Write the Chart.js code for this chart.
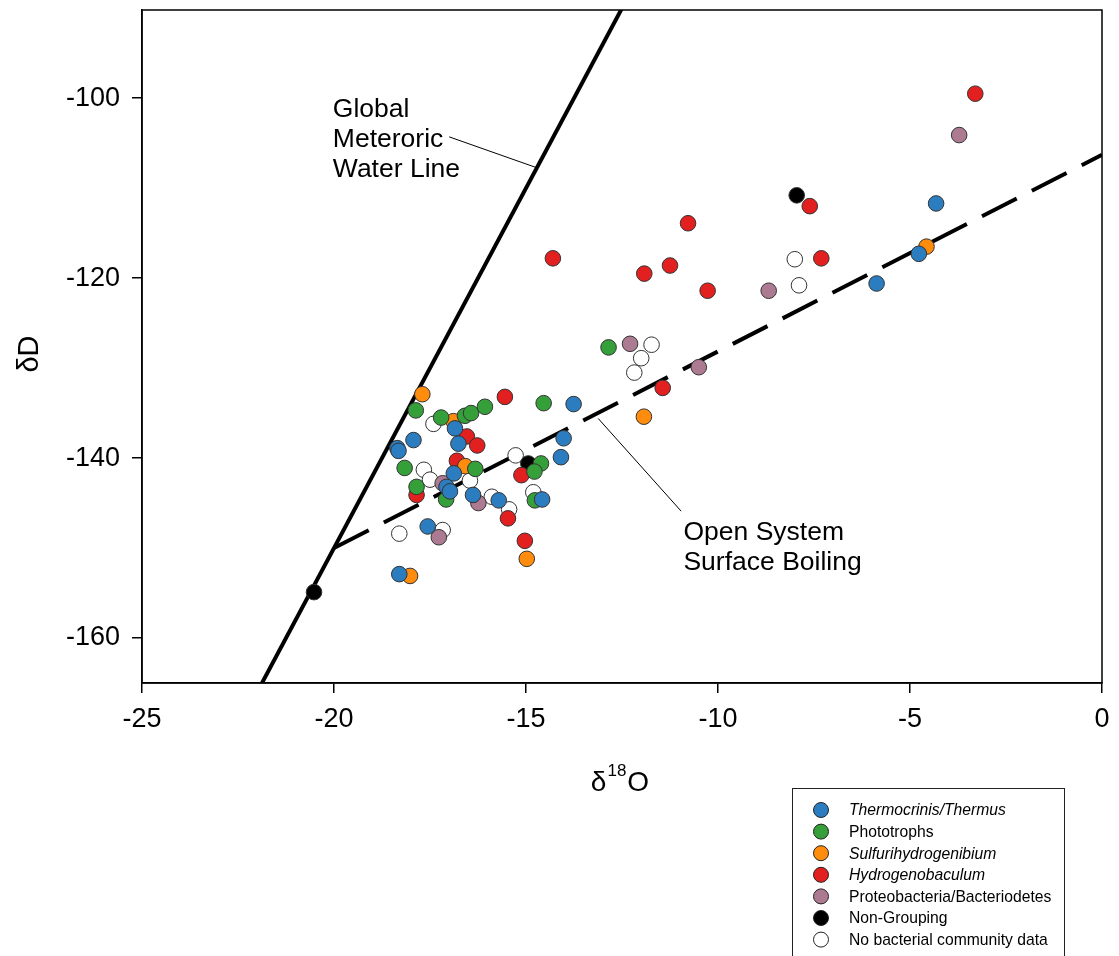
<!DOCTYPE html>
<html>
<head>
<meta charset="utf-8">
<script src="https://cdn.jsdelivr.net/npm/chart.js@4.4.1/dist/chart.umd.min.js"></script>
<style>
  html, body { margin: 0; padding: 0; background: #fff; }
  #wrap { position: relative; width: 1119px; height: 956px; }
</style>
</head>
<body>
<div id="wrap"><canvas id="isoChart"></canvas></div>
<script>
const xTicks = [-25, -20, -15, -10, -5, 0];
const yTicks = [-160, -140, -120, -100];

const thermX = [-16.85, -16.76, -17.93, -18.35, -18.32, -13.76, -14.02, -14.09, -16.88, -17.07, -16.98, -16.38, -15.71, -14.58, -17.56, -18.30, -5.87, -4.77, -4.32];
const thermY = [-136.7, -138.4, -138.0, -138.9, -139.2, -134.0, -137.8, -139.9, -141.7, -143.2, -143.7, -144.1, -144.7, -144.6, -147.6, -152.9, -120.6, -117.3, -111.7];

const photoX = [-17.87, -17.21, -16.59, -16.43, -16.07, -14.54, -18.16, -16.32, -14.61, -14.78, -17.85, -17.08, -14.77, -12.85];
const photoY = [-134.7, -135.5, -135.3, -135.0, -134.3, -133.9, -141.1, -141.2, -140.6, -141.5, -143.2, -144.6, -144.7, -127.7];

const sulfX = [-17.70, -16.89, -16.58, -11.93, -14.98, -18.02, -4.57];
const sulfY = [-132.9, -135.9, -140.9, -135.4, -151.2, -153.1, -116.5];

const hydroX = [-15.55, -16.54, -16.27, -16.80, -15.12, -17.85, -15.47, -15.03, -14.30, -11.92, -11.25, -10.27, -10.78, -7.61, -7.31, -3.30, -11.44];
const hydroY = [-133.2, -137.6, -138.6, -140.3, -141.9, -144.1, -146.7, -149.2, -117.8, -119.5, -118.6, -121.4, -113.9, -112.0, -117.8, -99.5, -132.2];

const proteoX = [-17.17, -16.24, -17.27, -12.29, -10.50, -8.68, -3.72];
const proteoY = [-142.8, -145.0, -148.8, -127.3, -129.9, -121.4, -104.1];

const nonGroupX = [-14.94, -20.52, -7.95];
const nonGroupY = [-140.6, -154.9, -110.8];

const noDataX = [-17.41, -17.66, -17.50, -16.46, -15.27, -15.89, -15.44, -14.81, -18.30, -17.17, -12.18, -12.00, -11.73, -8.00, -7.89];
const noDataY = [-136.2, -141.3, -142.4, -142.5, -139.7, -144.3, -145.7, -143.8, -148.4, -148.0, -130.5, -128.9, -127.4, -117.9, -120.8];

// reference lines (end points)
const gmwlX = [-22, -12.5];
const gmwlY = [-166, -90];
const boilX = [-20, 0];
const boilY = [-150, -106.3];

const groups = [
  { label: 'Thermocrinis/Thermus', italic: true, color: '#2c7dbf', xs: thermX, ys: thermY },
  { label: 'Phototrophs', italic: false, color: '#35a03a', xs: photoX, ys: photoY },
  { label: 'Sulfurihydrogenibium', italic: true, color: '#ff8c0c', xs: sulfX, ys: sulfY },
  { label: 'Hydrogenobaculum', italic: true, color: '#e2201f', xs: hydroX, ys: hydroY },
  { label: 'Proteobacteria/Bacteriodetes', italic: false, color: '#ad7b91', xs: proteoX, ys: proteoY },
  { label: 'Non-Grouping', italic: false, color: '#000000', xs: nonGroupX, ys: nonGroupY },
  { label: 'No bacterial community data', italic: false, color: '#ffffff', xs: noDataX, ys: noDataY },
];

const FONT = '"Liberation Sans", Arial, sans-serif';

function toPoints(xs, ys) {
  return xs.map((x, i) => ({ x, y: ys[i] }));
}

const datasets = groups.map((g, i) => ({
  type: 'scatter',
  label: g.label,
  data: toPoints(g.xs, g.ys),
  backgroundColor: g.color,
  borderColor: '#333333',
  borderWidth: 1,
  pointRadius: 7.8,
  pointHoverRadius: 7.8,
  order: i,
}));

datasets.push({
  type: 'line',
  label: 'GMWL',
  data: toPoints(gmwlX, gmwlY),
  borderColor: '#000',
  borderWidth: 4,
  pointRadius: 0,
  fill: false,
  order: 20,
});
datasets.push({
  type: 'line',
  label: 'Boiling',
  data: toPoints(boilX, boilY),
  borderColor: '#000',
  borderWidth: 4,
  borderDash: [39, 17],
  borderCapStyle: 'butt',
  pointRadius: 0,
  fill: false,
  order: 21,
});

const decorPlugin = {
  id: 'decor',
  afterDraw(chart) {
    const { ctx, chartArea: a, scales: { x, y } } = chart;
    ctx.save();

    // frame
    ctx.strokeStyle = '#000';
    ctx.lineWidth = 1.5;
    ctx.strokeRect(a.left, a.top, a.right - a.left, a.bottom - a.top);

    // leader lines
    ctx.lineWidth = 1;
    ctx.beginPath();
    ctx.moveTo(x.getPixelForValue(-17.0), y.getPixelForValue(-104.3));
    ctx.lineTo(x.getPixelForValue(-14.74), y.getPixelForValue(-107.7));
    ctx.moveTo(x.getPixelForValue(-13.12), y.getPixelForValue(-135.6));
    ctx.lineTo(x.getPixelForValue(-10.96), y.getPixelForValue(-145.9));
    ctx.stroke();

    // annotations
    ctx.fillStyle = '#000';
    ctx.font = `26.5px ${FONT}`;
    ctx.textAlign = 'left';
    ctx.textBaseline = 'middle';
    const gx = x.getPixelForValue(-20.03);
    ctx.fillText('Global', gx, 110);
    ctx.fillText('Meteroric', gx, 140);
    ctx.fillText('Water Line', gx, 170);
    const bx = x.getPixelForValue(-10.9);
    ctx.fillText('Open System', bx, 533);
    ctx.fillText('Surface Boiling', bx, 563);

    // y title
    ctx.save();
    ctx.translate(30, 354);
    ctx.rotate(-Math.PI / 2);
    ctx.textAlign = 'center';
    ctx.font = `29px ${FONT}`;
    ctx.fillText('\u03b4D', 0, 0);
    ctx.restore();

    // x title with superscript
    ctx.textBaseline = 'alphabetic';
    ctx.textAlign = 'left';
    const big = `28px ${FONT}`;
    const small = `17px ${FONT}`;
    ctx.font = big;
    const wd = ctx.measureText('\u03b4').width;
    const wo = ctx.measureText('O').width;
    ctx.font = small;
    const ws = ctx.measureText('18').width;
    const total = wd + ws + wo + 2;
    let tx = (a.left + a.right) / 2 - total / 2 - 2;
    const base = 791;
    ctx.font = big;
    ctx.fillText('\u03b4', tx, base);
    tx += wd + 1;
    ctx.font = small;
    ctx.fillText('18', tx, base - 15);
    tx += ws + 1;
    ctx.font = big;
    ctx.fillText('O', tx, base);

    // legend box
    ctx.lineWidth = 1;
    ctx.strokeStyle = '#222';
    ctx.strokeRect(792.5, 788.5, 272, 200);
    groups.forEach((g, i) => {
      const cy = 810 + i * 21.6;
      ctx.beginPath();
      ctx.arc(821, cy, 7.5, 0, Math.PI * 2);
      ctx.fillStyle = g.color;
      ctx.fill();
      ctx.strokeStyle = '#222';
      ctx.lineWidth = 1;
      ctx.stroke();
      ctx.fillStyle = '#000';
      ctx.font = `${g.italic ? 'italic ' : ''}15.7px ${FONT}`;
      ctx.textBaseline = 'middle';
      ctx.fillText(g.label, 849, cy + 1);
    });

    ctx.restore();
  }
};

new Chart(document.getElementById('isoChart'), {
  data: { datasets },
  options: {
    responsive: true,
    maintainAspectRatio: false,
    animation: false,
    layout: { padding: { left: 0, top: 10, right: 17, bottom: 0 } },
    plugins: {
      legend: { display: false },
      tooltip: { enabled: false },
    },
    scales: {
      x: {
        type: 'linear',
        min: -25,
        max: 0,
        afterBuildTicks: (s) => { s.ticks = xTicks.map(v => ({ value: v })); },
        afterFit: (s) => { s.height = 273; s.paddingLeft = 0; s.paddingRight = 0; },
        grid: { drawOnChartArea: false, drawTicks: true, tickLength: 10, color: '#000', lineWidth: 1.5 },
        border: { display: true, color: '#000', width: 1.5 },
        ticks: { color: '#000', padding: 10, font: { family: FONT, size: 27 } },
      },
      y: {
        type: 'linear',
        min: -165,
        max: -90.2,
        afterBuildTicks: (s) => { s.ticks = yTicks.map(v => ({ value: v })); },
        afterFit: (s) => { s.width = 142; s.paddingTop = 0; s.paddingBottom = 0; },
        grid: { drawOnChartArea: false, drawTicks: true, tickLength: 10, color: '#000', lineWidth: 1.5 },
        border: { display: true, color: '#000', width: 1.5 },
        ticks: { color: '#000', padding: 12, font: { family: FONT, size: 27 } },
      },
    },
  },
  plugins: [decorPlugin],
});
</script>
</body>
</html>
